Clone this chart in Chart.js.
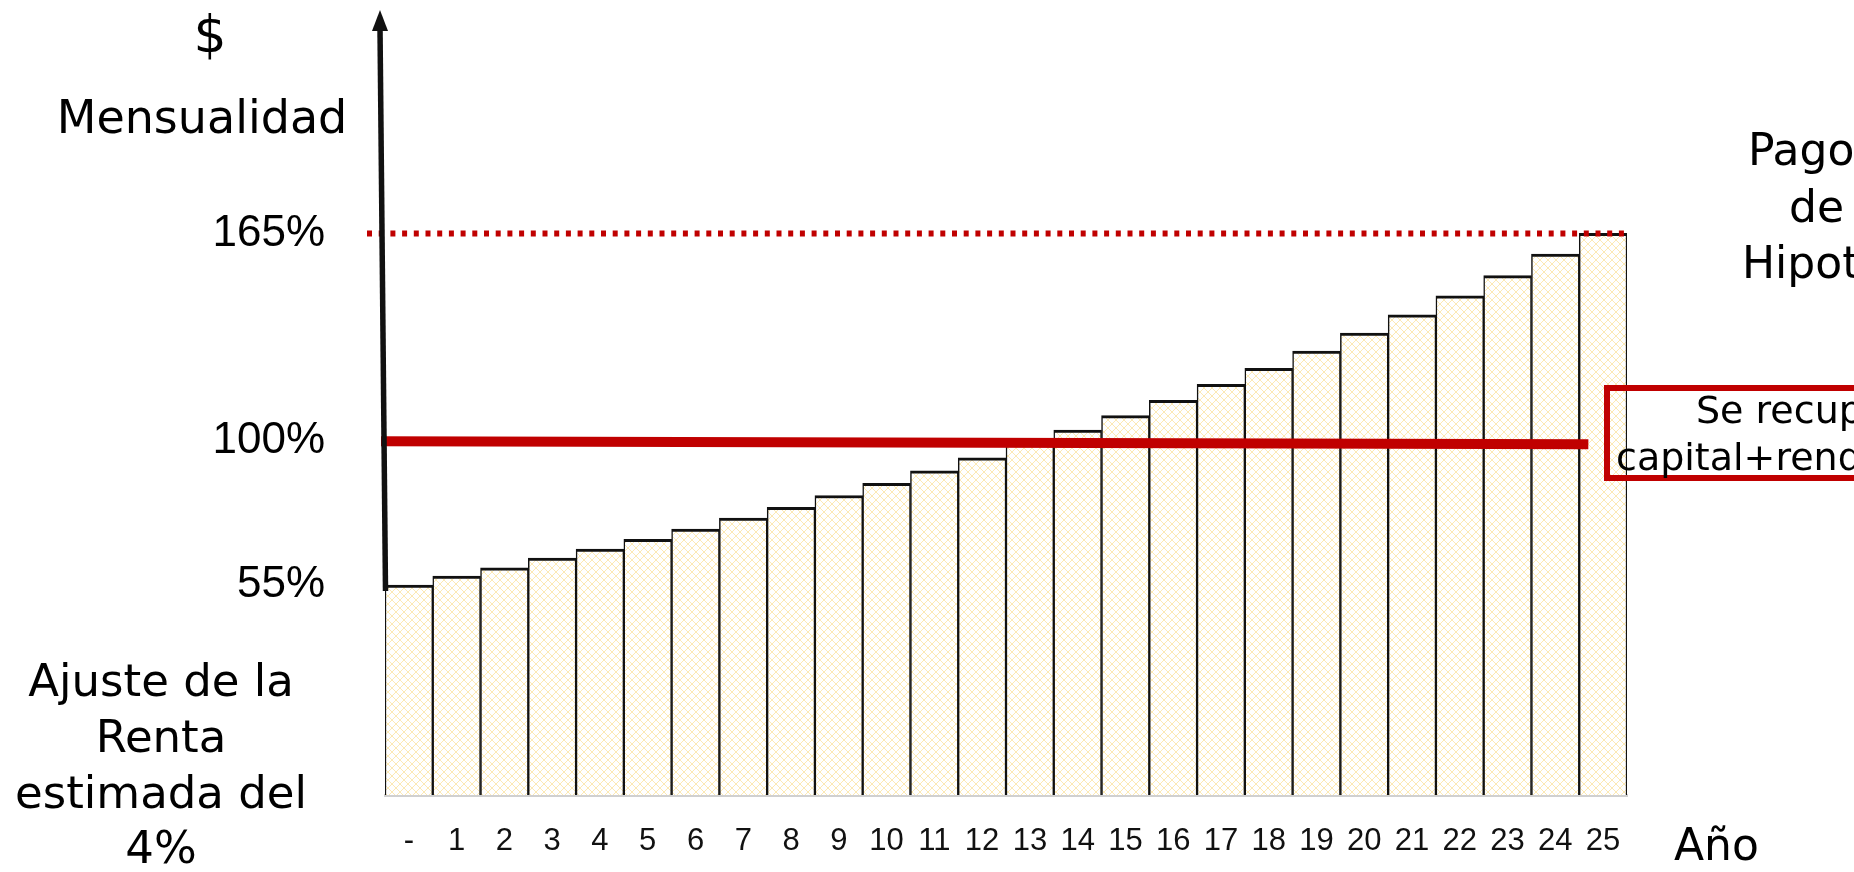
<!DOCTYPE html>
<html>
<head>
<meta charset="utf-8">
<script src="https://cdn.jsdelivr.net/npm/chart.js@4.4.1/dist/chart.umd.min.js"></script>
<style>
  body { margin: 0; background: #fff; }
</style>
</head>
<body>
<canvas id="chart" width="1854" height="872"></canvas>
<script>
// years of the mortgage, "-" is the starting month
var years = ['-', '1', '2', '3', '4', '5', '6', '7', '8', '9', '10', '11', '12',
             '13', '14', '15', '16', '17', '18', '19', '20', '21', '22', '23', '24', '25'];

// monthly payment as % of the original rent
var payment = [55.0, 57.8, 60.4, 63.4, 66.2, 69.3, 72.5, 75.9, 79.3, 83.0, 86.8, 90.7, 94.8,
               99.1, 103.5, 108.0, 112.8, 117.8, 122.8, 128.2, 133.8, 139.5, 145.5, 151.8, 158.5, 165.0];

var markTicks = [55, 100, 165];
var rentLine = 100;
var capLine = 165;
var yMin = -10.7;
var yMax = 225.5;

var leftNote = ['Ajuste de la', 'Renta', 'estimada del', '4%'];
var rightNote = ['Pago', 'de', 'Hipoteca'];
var boxNote = ['Se recupera el', 'capital+rendimientos'];

function makePattern() {
  var p = document.createElement('canvas');
  p.width = 8; p.height = 8;
  var c = p.getContext('2d');
  c.fillStyle = '#ffffff';
  c.fillRect(0, 0, 8, 8);
  c.strokeStyle = '#fce9b4';
  c.lineWidth = 1;
  c.beginPath();
  c.moveTo(0, 0); c.lineTo(8, 8);
  c.moveTo(8, 0); c.lineTo(0, 8);
  c.stroke();
  return c.createPattern(p, 'repeat');
}

var extras = {
  id: 'extras',
  afterDatasetsDraw: function(chart) {
    var ctx = chart.ctx;
    var x = chart.scales.x, y = chart.scales.y, area = chart.chartArea;
    ctx.save();

    // dotted line at the final payment
    var yc = Math.round(y.getPixelForValue(capLine)) + 0.5;
    ctx.strokeStyle = '#c00000';
    ctx.lineWidth = 6;
    ctx.setLineDash([5, 6.7]);
    ctx.beginPath();
    ctx.moveTo(area.left - 18, yc);
    ctx.lineTo(area.right, yc);
    ctx.stroke();
    ctx.setLineDash([]);

    // rent level
    var yr = y.getPixelForValue(rentLine);
    ctx.lineWidth = 10;
    ctx.beginPath();
    ctx.moveTo(area.left - 4, yr);
    ctx.lineTo(x.getPixelForValue(24) + 33, yr + 3);
    ctx.stroke();

    // box on the right
    ctx.lineWidth = 6;
    ctx.strokeRect(area.right - 20, 388, 320, 90);

    // vertical arrow
    var yb = y.getPixelForValue(payment[0]) + 6;
    ctx.strokeStyle = '#111';
    ctx.fillStyle = '#111';
    ctx.lineWidth = 5.5;
    ctx.beginPath();
    ctx.moveTo(area.left + 0.5, yb);
    ctx.lineTo(area.left - 5, 28);
    ctx.stroke();
    ctx.beginPath();
    ctx.moveTo(area.left - 5, 10);
    ctx.lineTo(area.left - 13, 31);
    ctx.lineTo(area.left + 3, 31);
    ctx.closePath();
    ctx.fill();

    // texts
    ctx.fillStyle = '#000';
    ctx.textBaseline = 'alphabetic';
    ctx.textAlign = 'center';
    ctx.font = '52px "DejaVu Sans"';
    ctx.fillText('$', 210, 52);
    ctx.font = '46px "DejaVu Sans"';
    ctx.fillText('Mensualidad', 202, 133);

    ctx.font = '45px "DejaVu Sans"';
    var lb = [696, 752, 808, 863];
    leftNote.forEach(function(t, i) { ctx.fillText(t, 161, lb[i]); });

    ctx.textAlign = 'left';
    ctx.font = '44px "DejaVu Sans"';
    ctx.fillText('Año', 1674, 860);
    var rx = [1748, 1789, 1742], ry = [165, 222, 278];
    rightNote.forEach(function(t, i) { ctx.fillText(t, rx[i], ry[i]); });

    ctx.font = '38px "DejaVu Sans"';
    ctx.fillText(boxNote[0], 1696, 423);
    ctx.fillText(boxNote[1], 1616, 470);

    ctx.restore();
  }
};

new Chart(document.getElementById('chart'), {
  type: 'bar',
  data: {
    labels: years,
    datasets: [{
      data: payment,
      base: yMin,
      backgroundColor: makePattern(),
      borderColor: '#111',
      borderWidth: { top: 3, left: 1.5, right: 1.5, bottom: 0 },
      borderSkipped: 'start',
      barPercentage: 1,
      categoryPercentage: 1
    }]
  },
  options: {
    responsive: false,
    animation: false,
    layout: { padding: { top: 40, right: 227, bottom: 0, left: 0 } },
    plugins: {
      legend: { display: false },
      tooltip: { enabled: false }
    },
    scales: {
      x: {
        grid: { display: false, drawTicks: false },
        border: { display: true, color: '#d0d0d0', width: 3 },
        ticks: {
          font: { family: 'Liberation Sans', size: 31 },
          color: '#111',
          padding: 28,
          maxRotation: 0,
          autoSkip: false
        },
        afterFit: function(s) { s.height = 77; }
      },
      y: {
        min: yMin,
        max: yMax,
        grid: { display: false, drawTicks: false },
        border: { display: false },
        afterBuildTicks: function(s) {
          s.ticks = markTicks.map(function(v) { return { value: v }; });
        },
        ticks: {
          callback: function(v) { return v + '%'; },
          font: { family: 'Liberation Sans', size: 44 },
          color: '#000',
          padding: 60
        },
        afterFit: function(s) {
          s.width = 385;
          s.paddingTop = 0;
          s.paddingBottom = 0;
        }
      }
    }
  },
  plugins: [extras]
});
</script>
</body>
</html>
